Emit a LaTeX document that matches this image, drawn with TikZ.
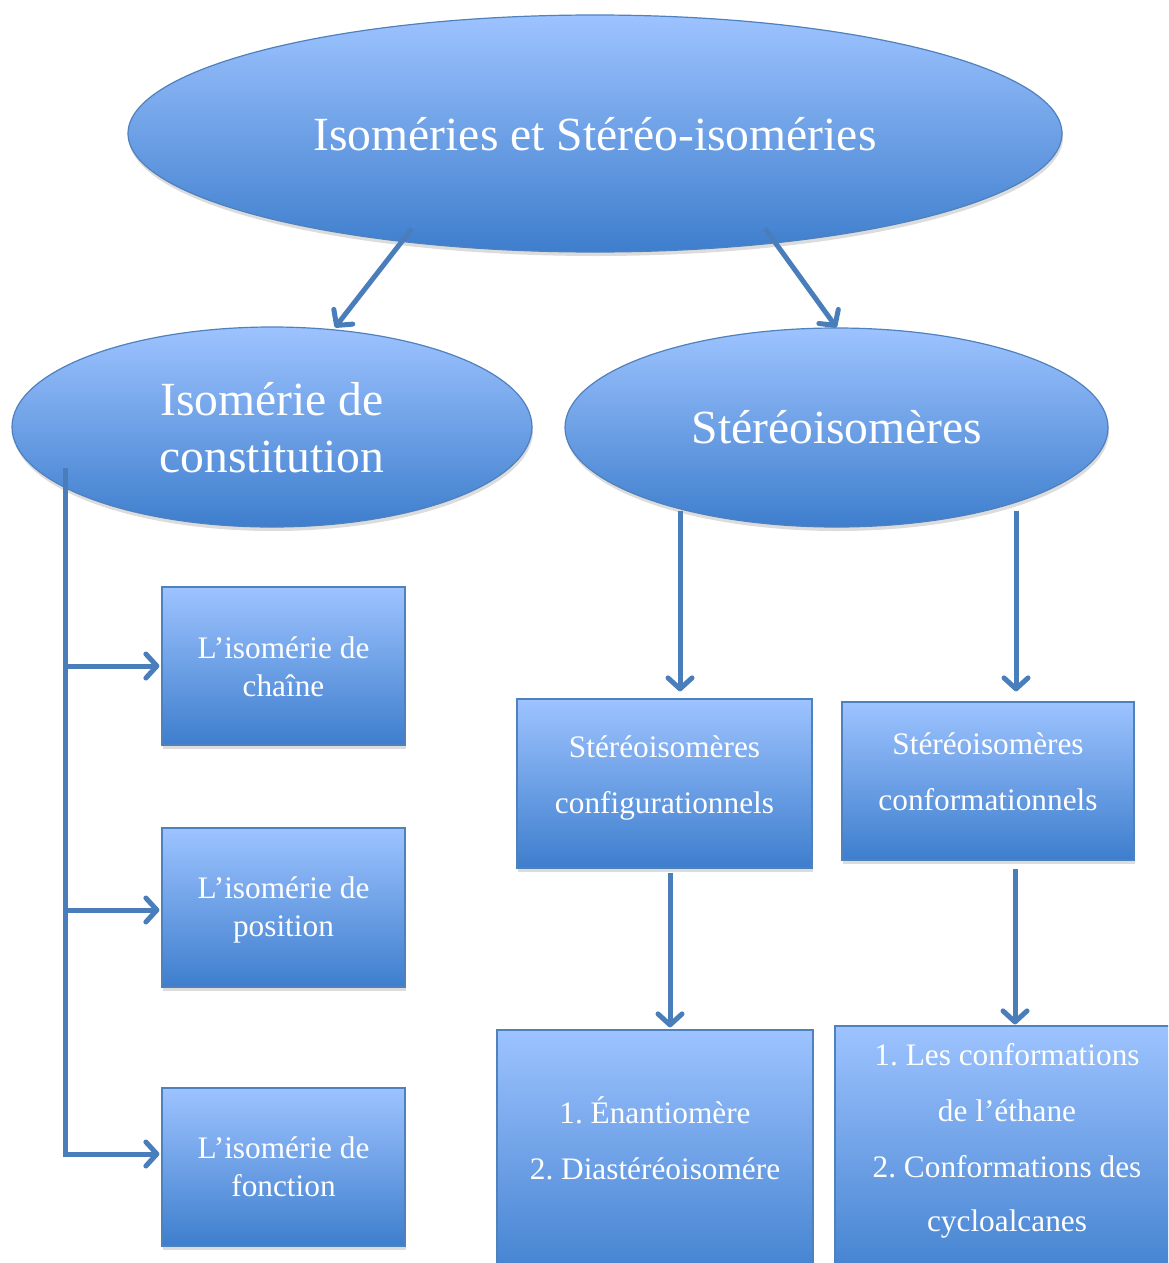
\documentclass[tikz,border=0pt]{standalone}
\usepackage{fontspec}
\setmainfont{Liberation Serif}
\usetikzlibrary{shapes.geometric,arrows.meta,shadows,calc}
\definecolor{topc}{RGB}{157,195,255}
\definecolor{botc}{RGB}{62,126,205}
\definecolor{edgec}{RGB}{79,129,189}
\definecolor{arrc}{RGB}{74,126,187}
\frenchspacing
\begin{document}
\frenchspacing
\begin{tikzpicture}[x=1pt,y=-1pt,
 shape3d/.style={draw=edgec, line width=1.2pt, top color=topc, bottom color=botc,
   drop shadow={opacity=0.28, shadow xshift=1pt, shadow yshift=-4pt}, inner sep=0pt},
 ell/.style={shape3d, ellipse},
 boxn/.style={shape3d, rectangle},
 bigtxt/.style={text=white, font=\fontsize{47.6}{57}\selectfont, inner sep=0pt, anchor=base},
 smalltxt/.style={text=white, font=\fontsize{31.3}{37}\selectfont, inner sep=0pt, anchor=base},
 ln/.style={draw=arrc, line width=5pt},
 arr/.style={ln, -{Straight Barb[length=11pt,width=24pt,line cap=round,line join=round]}}]
\useasboundingbox (0,0) rectangle (1168,1263);
\clip (0,0) rectangle (1168,1263);

% shapes
\node[ell, minimum width=934pt, minimum height=237pt] (top) at (595,133.5) {};
\node[ell, minimum width=520pt, minimum height=200pt] (cons) at (272,427) {};
\node[ell, minimum width=543pt, minimum height=199pt] (stereo) at (836.5,427.5) {};
\node[boxn, minimum width=243pt, minimum height=158pt] (b1) at (283.5,666) {};
\node[boxn, minimum width=243pt, minimum height=159pt] (b2) at (283.5,907.5) {};
\node[boxn, minimum width=243pt, minimum height=158pt] (b3) at (283.5,1167) {};
\node[boxn, minimum width=295pt, minimum height=169pt] (cfg) at (664.5,783.5) {};
\node[boxn, minimum width=292pt, minimum height=158pt] (cnf) at (988,781) {};
\node[boxn, minimum width=316pt, minimum height=260pt] (enan) at (655,1160) {};
\node[boxn, minimum width=344pt, minimum height=264pt] (conf) at (1007,1158) {};

% texts
\node[bigtxt] (ttop) at (595,150) {Isoméries et Stéréo-isoméries};
\node[bigtxt] (tc1) at (272,415) {Isomérie de};
\node[bigtxt] (tc2) at (272,472) {constitution};
\node[bigtxt] (ts) at (837,443) {Stéréoisomères};

\node[smalltxt] (t1a) at (283.5,658) {L’isomérie de};
\node[smalltxt] (t1b) at (283.5,696) {chaîne};
\node[smalltxt] (t2a) at (283.5,898) {L’isomérie de};
\node[smalltxt] (t2b) at (283.5,936) {position};
\node[smalltxt] (t3a) at (283.5,1158) {L’isomérie de};
\node[smalltxt] (t3b) at (283.5,1196) {fonction};

\node[smalltxt] (tg1) at (664.5,757) {Stéréoisomères};
\node[smalltxt] (tg2) at (664.5,813) {configurationnels};
\node[smalltxt] (tf1) at (988,754) {Stéréoisomères};
\node[smalltxt] (tf2) at (988,810) {conformationnels};

\node[smalltxt] (te1) at (655,1123) {1. Énantiomère};
\node[smalltxt] (te2) at (655,1179) {2. Diastéréoisomére};
\node[smalltxt] (tk1) at (1007,1065) {1. Les conformations};
\node[smalltxt] (tk2) at (1007,1121) {de l’éthane};
\node[smalltxt] (tk3) at (1007,1177) {2. Conformations des};
\node[smalltxt] (tk4) at (1007,1231) {cycloalcanes};

% connectors
\draw[arr] ($(top.center)+(-183,95)$) -- ($(cons.north)+(63,1)$);
\draw[arr] ($(top.center)+(170,95)$) -- (stereo.north);
\draw[arr] ($(stereo.south)+(-156.5,-17)$) -- ($(cfg.north)+(15.5,-7)$);
\draw[arr] ($(stereo.south)+(179.5,-17)$) -- ($(cnf.north)+(28,-10)$);
\draw[arr] ($(cfg.south)+(5.5,4)$) -- ($(enan.north)+(15,-2)$);
\draw[arr] ($(cnf.south)+(27,8)$) -- ($(conf.north)+(8,-1)$);

\coordinate (vtop) at ($(cons.center)+(-207,41)$);
\coordinate (h1) at (65,666);
\coordinate (h2) at (65,910);
\coordinate (h3) at (65,1154);
\draw[arr] (vtop) -- (h3) -- ($(h3 -| b3.west)+(-2,0)$);
\draw[arr] (h1) -- ($(h1 -| b1.west)+(-2,0)$);
\draw[arr] (h2) -- ($(h2 -| b2.west)+(-2,0)$);
\end{tikzpicture}
\end{document}
